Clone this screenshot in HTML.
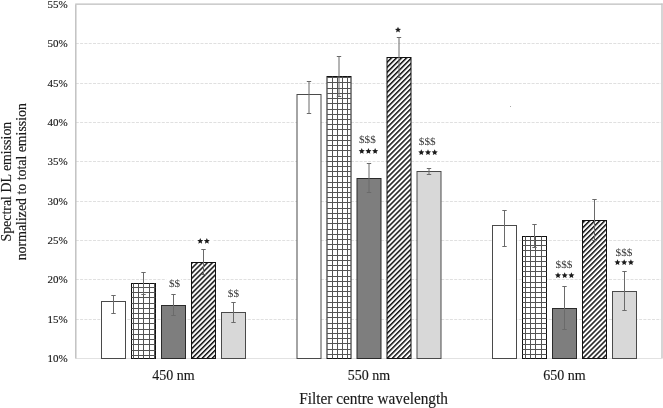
<!DOCTYPE html><html><head><meta charset="utf-8"><style>
html,body{margin:0;padding:0;background:#fff;width:663px;height:408px;overflow:hidden}
svg{display:block;will-change:transform}
text{font-family:"Liberation Serif",serif;fill:#1a1a1a;stroke:#1a1a1a;stroke-width:0.15px}
</style></head><body>
<svg width="663" height="408" viewBox="0 0 663 408">
<defs>
<pattern id="hatch0" patternUnits="userSpaceOnUse" width="3.55" height="3.55" patternTransform="translate(0 2.1) rotate(-45)"><rect width="3.55" height="3.55" fill="#fff"/><rect width="3.55" height="1.5" fill="#111"/></pattern>
<pattern id="hatch1" patternUnits="userSpaceOnUse" width="3.55" height="3.55" patternTransform="translate(0 1.5) rotate(-45)"><rect width="3.55" height="3.55" fill="#fff"/><rect width="3.55" height="1.5" fill="#111"/></pattern>
<pattern id="hatch2" patternUnits="userSpaceOnUse" width="3.55" height="3.55" patternTransform="translate(0 1.1) rotate(-45)"><rect width="3.55" height="3.55" fill="#fff"/><rect width="3.55" height="1.5" fill="#111"/></pattern>
</defs>
<line x1="75.8" y1="319.50" x2="661.0" y2="319.50" stroke="#e0e0e0" stroke-width="1" stroke-dasharray="3 1.3"/>
<line x1="75.8" y1="279.50" x2="661.0" y2="279.50" stroke="#e0e0e0" stroke-width="1" stroke-dasharray="3 1.3"/>
<line x1="75.8" y1="240.50" x2="661.0" y2="240.50" stroke="#e0e0e0" stroke-width="1" stroke-dasharray="3 1.3"/>
<line x1="75.8" y1="201.50" x2="661.0" y2="201.50" stroke="#e0e0e0" stroke-width="1" stroke-dasharray="3 1.3"/>
<line x1="75.8" y1="161.50" x2="661.0" y2="161.50" stroke="#e0e0e0" stroke-width="1" stroke-dasharray="3 1.3"/>
<line x1="75.8" y1="122.50" x2="661.0" y2="122.50" stroke="#e0e0e0" stroke-width="1" stroke-dasharray="3 1.3"/>
<line x1="75.8" y1="83.50" x2="661.0" y2="83.50" stroke="#e0e0e0" stroke-width="1" stroke-dasharray="3 1.3"/>
<line x1="75.8" y1="43.50" x2="661.0" y2="43.50" stroke="#e0e0e0" stroke-width="1" stroke-dasharray="3 1.3"/>
<line x1="75.5" y1="358.5" x2="661.5" y2="358.5" stroke="#e2e2e2" stroke-width="1"/>
<line x1="75.2" y1="4.2" x2="662.6" y2="4.2" stroke="#bdbdbd" stroke-width="1.3"/>
<line x1="75.8" y1="4.5" x2="75.8" y2="358.5" stroke="#c2c2c2" stroke-width="1.5"/>
<line x1="662" y1="3.6" x2="662" y2="358.5" stroke="#c4c4c4" stroke-width="1.4"/>
<rect x="101.50" y="301.50" width="24.0" height="57.00" fill="#ffffff" stroke="#4a4a4a" stroke-width="1"/>
<rect x="131.50" y="283.50" width="24.0" height="75.00" fill="#ffffff" stroke="#111" stroke-width="1"/>
<rect x="161.50" y="305.50" width="24.0" height="53.00" fill="#7e7e7e" stroke="#2a2a2a" stroke-width="1"/>
<rect x="191.50" y="262.50" width="24.0" height="96.00" fill="url(#hatch0)" stroke="#111" stroke-width="1"/>
<rect x="221.50" y="312.50" width="24.0" height="46.00" fill="#d8d8d8" stroke="#4a4a4a" stroke-width="1"/>
<rect x="297.00" y="94.50" width="24.0" height="264.00" fill="#ffffff" stroke="#4a4a4a" stroke-width="1"/>
<rect x="327.00" y="76.50" width="24.0" height="282.00" fill="#ffffff" stroke="#111" stroke-width="1"/>
<rect x="357.00" y="178.50" width="24.0" height="180.00" fill="#7e7e7e" stroke="#2a2a2a" stroke-width="1"/>
<rect x="387.00" y="57.50" width="24.0" height="301.00" fill="url(#hatch1)" stroke="#111" stroke-width="1"/>
<rect x="417.00" y="171.50" width="24.0" height="187.00" fill="#d8d8d8" stroke="#4a4a4a" stroke-width="1"/>
<rect x="492.50" y="225.50" width="24.0" height="133.00" fill="#ffffff" stroke="#4a4a4a" stroke-width="1"/>
<rect x="522.50" y="236.50" width="24.0" height="122.00" fill="#ffffff" stroke="#111" stroke-width="1"/>
<rect x="552.50" y="308.50" width="24.0" height="50.00" fill="#7e7e7e" stroke="#2a2a2a" stroke-width="1"/>
<rect x="582.50" y="220.50" width="24.0" height="138.00" fill="url(#hatch2)" stroke="#111" stroke-width="1"/>
<rect x="612.50" y="291.50" width="24.0" height="67.00" fill="#d8d8d8" stroke="#4a4a4a" stroke-width="1"/>
<path d="M133.5 283.5V358.5M138.5 283.5V358.5M143.5 283.5V358.5M149.5 283.5V358.5M154.5 283.5V358.5M131.5 287.5H155.5M131.5 292.5H155.5M131.5 297.5H155.5M131.5 303.5H155.5M131.5 308.5H155.5M131.5 313.5H155.5M131.5 318.5H155.5M131.5 323.5H155.5M131.5 329.5H155.5M131.5 334.5H155.5M131.5 339.5H155.5M131.5 344.5H155.5M131.5 350.5H155.5M131.5 355.5H155.5" stroke="#545454" stroke-width="1" fill="none"/>
<path d="M332.5 76.5V358.5M337.5 76.5V358.5M342.5 76.5V358.5M347.5 76.5V358.5M327.0 77.5H351.0M327.0 82.5H351.0M327.0 88.5H351.0M327.0 93.5H351.0M327.0 98.5H351.0M327.0 103.5H351.0M327.0 109.5H351.0M327.0 114.5H351.0M327.0 119.5H351.0M327.0 124.5H351.0M327.0 129.5H351.0M327.0 135.5H351.0M327.0 140.5H351.0M327.0 145.5H351.0M327.0 150.5H351.0M327.0 156.5H351.0M327.0 161.5H351.0M327.0 166.5H351.0M327.0 171.5H351.0M327.0 176.5H351.0M327.0 182.5H351.0M327.0 187.5H351.0M327.0 192.5H351.0M327.0 197.5H351.0M327.0 202.5H351.0M327.0 208.5H351.0M327.0 213.5H351.0M327.0 218.5H351.0M327.0 223.5H351.0M327.0 229.5H351.0M327.0 234.5H351.0M327.0 239.5H351.0M327.0 244.5H351.0M327.0 249.5H351.0M327.0 255.5H351.0M327.0 260.5H351.0M327.0 265.5H351.0M327.0 270.5H351.0M327.0 276.5H351.0M327.0 281.5H351.0M327.0 286.5H351.0M327.0 291.5H351.0M327.0 296.5H351.0M327.0 302.5H351.0M327.0 307.5H351.0M327.0 312.5H351.0M327.0 317.5H351.0M327.0 323.5H351.0M327.0 328.5H351.0M327.0 333.5H351.0M327.0 338.5H351.0M327.0 343.5H351.0M327.0 349.5H351.0M327.0 354.5H351.0" stroke="#545454" stroke-width="1" fill="none"/>
<path d="M525.5 236.5V358.5M530.5 236.5V358.5M535.5 236.5V358.5M541.5 236.5V358.5M522.5 240.5H546.5M522.5 245.5H546.5M522.5 250.5H546.5M522.5 256.5H546.5M522.5 261.5H546.5M522.5 266.5H546.5M522.5 271.5H546.5M522.5 276.5H546.5M522.5 282.5H546.5M522.5 287.5H546.5M522.5 292.5H546.5M522.5 297.5H546.5M522.5 302.5H546.5M522.5 307.5H546.5M522.5 313.5H546.5M522.5 318.5H546.5M522.5 323.5H546.5M522.5 328.5H546.5M522.5 333.5H546.5M522.5 339.5H546.5M522.5 344.5H546.5M522.5 349.5H546.5M522.5 354.5H546.5" stroke="#545454" stroke-width="1" fill="none"/>
<path d="M113.5 295.5V313.5M111.3 295.5H115.7M111.3 313.5H115.7" stroke="#6a6a6a" stroke-width="1" fill="none"/>
<path d="M143.5 272.5V294.5M141.3 272.5H145.7M141.3 294.5H145.7" stroke="#6a6a6a" stroke-width="1" fill="none"/>
<path d="M173.5 294.5V315.5M171.3 294.5H175.7M171.3 315.5H175.7" stroke="#6a6a6a" stroke-width="1" fill="none"/>
<path d="M203.5 249.5V274.5M201.3 249.5H205.7M201.3 274.5H205.7" stroke="#6a6a6a" stroke-width="1" fill="none"/>
<path d="M233.5 302.5V322.5M231.3 302.5H235.7M231.3 322.5H235.7" stroke="#6a6a6a" stroke-width="1" fill="none"/>
<path d="M309.0 81.5V113.5M306.8 81.5H311.2M306.8 113.5H311.2" stroke="#6a6a6a" stroke-width="1" fill="none"/>
<path d="M339.0 56.5V96.5M336.8 56.5H341.2M336.8 96.5H341.2" stroke="#6a6a6a" stroke-width="1" fill="none"/>
<path d="M369.0 163.5V192.5M366.8 163.5H371.2M366.8 192.5H371.2" stroke="#6a6a6a" stroke-width="1" fill="none"/>
<path d="M399.0 37.5V77.5M396.8 37.5H401.2M396.8 77.5H401.2" stroke="#6a6a6a" stroke-width="1" fill="none"/>
<path d="M429.0 168.5V174.5M426.8 168.5H431.2M426.8 174.5H431.2" stroke="#6a6a6a" stroke-width="1" fill="none"/>
<path d="M504.5 210.5V246.5M502.3 210.5H506.7M502.3 246.5H506.7" stroke="#6a6a6a" stroke-width="1" fill="none"/>
<path d="M534.5 224.5V247.5M532.3 224.5H536.7M532.3 247.5H536.7" stroke="#6a6a6a" stroke-width="1" fill="none"/>
<path d="M564.5 286.5V329.5M562.3 286.5H566.7M562.3 329.5H566.7" stroke="#6a6a6a" stroke-width="1" fill="none"/>
<path d="M594.5 199.5V240.5M592.3 199.5H596.7M592.3 240.5H596.7" stroke="#6a6a6a" stroke-width="1" fill="none"/>
<path d="M624.5 271.5V310.5M622.3 271.5H626.7M622.3 310.5H626.7" stroke="#6a6a6a" stroke-width="1" fill="none"/>
<text x="67.6" y="362.10" font-size="11" text-anchor="end">10%</text>
<text x="67.6" y="322.77" font-size="11" text-anchor="end">15%</text>
<text x="67.6" y="283.43" font-size="11" text-anchor="end">20%</text>
<text x="67.6" y="244.10" font-size="11" text-anchor="end">25%</text>
<text x="67.6" y="204.77" font-size="11" text-anchor="end">30%</text>
<text x="67.6" y="165.43" font-size="11" text-anchor="end">35%</text>
<text x="67.6" y="126.10" font-size="11" text-anchor="end">40%</text>
<text x="67.6" y="86.77" font-size="11" text-anchor="end">45%</text>
<text x="67.6" y="47.43" font-size="11" text-anchor="end">50%</text>
<text x="67.6" y="8.10" font-size="11" text-anchor="end">55%</text>
<text x="173.50" y="380.0" font-size="14" text-anchor="middle">450 nm</text>
<text x="369.00" y="380.0" font-size="14" text-anchor="middle">550 nm</text>
<text x="564.50" y="380.0" font-size="14" text-anchor="middle">650 nm</text>
<text x="373.6" y="403.8" font-size="16" text-anchor="middle" textLength="148.6" lengthAdjust="spacingAndGlyphs">Filter centre wavelength</text>
<text transform="translate(10.6 181.65) rotate(-90)" font-size="13.9" text-anchor="middle">Spectral DL emission</text>
<text transform="translate(25.8 181.7) rotate(-90)" font-size="13.85" text-anchor="middle">normalized to total emission</text>
<rect x="166.3" y="277" width="14.6" height="12" fill="#fff"/>
<rect x="193.8" y="236" width="19.5" height="9" fill="#fff"/>
<text x="174.60" y="287.30" font-size="11.2" text-anchor="middle" style="fill:#3a3a3a;stroke:none">$$</text>
<text x="233.40" y="297.30" font-size="11.2" text-anchor="middle" style="fill:#3a3a3a;stroke:none">$$</text>
<text x="367.40" y="143.40" font-size="11.2" text-anchor="middle" style="fill:#3a3a3a;stroke:none">$$$</text>
<text x="427.20" y="144.60" font-size="11.2" text-anchor="middle" style="fill:#3a3a3a;stroke:none">$$$</text>
<text x="564.00" y="267.50" font-size="11.2" text-anchor="middle" style="fill:#3a3a3a;stroke:none">$$$</text>
<text x="624.00" y="256.40" font-size="11.2" text-anchor="middle" style="fill:#3a3a3a;stroke:none">$$$</text>
<polygon points="200.25,237.90 201.12,239.91 203.29,240.11 201.65,241.55 202.13,243.69 200.25,242.57 198.37,243.69 198.85,241.55 197.21,240.11 199.38,239.91" fill="#1c1c1c"/><polygon points="206.85,237.90 207.72,239.91 209.89,240.11 208.25,241.55 208.73,243.69 206.85,242.57 204.97,243.69 205.45,241.55 203.81,240.11 205.98,239.91" fill="#1c1c1c"/>
<polygon points="361.75,148.00 362.62,150.01 364.79,150.21 363.15,151.65 363.63,153.79 361.75,152.67 359.87,153.79 360.35,151.65 358.71,150.21 360.88,150.01" fill="#1c1c1c"/><polygon points="368.45,148.00 369.32,150.01 371.49,150.21 369.85,151.65 370.33,153.79 368.45,152.67 366.57,153.79 367.05,151.65 365.41,150.21 367.58,150.01" fill="#1c1c1c"/><polygon points="375.15,148.00 376.02,150.01 378.19,150.21 376.55,151.65 377.03,153.79 375.15,152.67 373.27,153.79 373.75,151.65 372.11,150.21 374.28,150.01" fill="#1c1c1c"/>
<polygon points="398.00,26.70 398.87,28.71 401.04,28.91 399.40,30.35 399.88,32.49 398.00,31.37 396.12,32.49 396.60,30.35 394.96,28.91 397.13,28.71" fill="#1c1c1c"/>
<polygon points="421.30,149.30 422.17,151.31 424.34,151.51 422.70,152.95 423.18,155.09 421.30,153.97 419.42,155.09 419.90,152.95 418.26,151.51 420.43,151.31" fill="#1c1c1c"/><polygon points="428.00,149.30 428.87,151.31 431.04,151.51 429.40,152.95 429.88,155.09 428.00,153.97 426.12,155.09 426.60,152.95 424.96,151.51 427.13,151.31" fill="#1c1c1c"/><polygon points="434.70,149.30 435.57,151.31 437.74,151.51 436.10,152.95 436.58,155.09 434.70,153.97 432.82,155.09 433.30,152.95 431.66,151.51 433.83,151.31" fill="#1c1c1c"/>
<polygon points="558.00,272.30 558.87,274.31 561.04,274.51 559.40,275.95 559.88,278.09 558.00,276.97 556.12,278.09 556.60,275.95 554.96,274.51 557.13,274.31" fill="#1c1c1c"/><polygon points="564.70,272.30 565.57,274.31 567.74,274.51 566.10,275.95 566.58,278.09 564.70,276.97 562.82,278.09 563.30,275.95 561.66,274.51 563.83,274.31" fill="#1c1c1c"/><polygon points="571.40,272.30 572.27,274.31 574.44,274.51 572.80,275.95 573.28,278.09 571.40,276.97 569.52,278.09 570.00,275.95 568.36,274.51 570.53,274.31" fill="#1c1c1c"/>
<polygon points="617.50,259.30 618.37,261.31 620.54,261.51 618.90,262.95 619.38,265.09 617.50,263.97 615.62,265.09 616.10,262.95 614.46,261.51 616.63,261.31" fill="#1c1c1c"/><polygon points="624.20,259.30 625.07,261.31 627.24,261.51 625.60,262.95 626.08,265.09 624.20,263.97 622.32,265.09 622.80,262.95 621.16,261.51 623.33,261.31" fill="#1c1c1c"/><polygon points="630.90,259.30 631.77,261.31 633.94,261.51 632.30,262.95 632.78,265.09 630.90,263.97 629.02,265.09 629.50,262.95 627.86,261.51 630.03,261.31" fill="#1c1c1c"/>
<rect x="510" y="106" width="1" height="1" fill="#aaa"/>
</svg></body></html>
